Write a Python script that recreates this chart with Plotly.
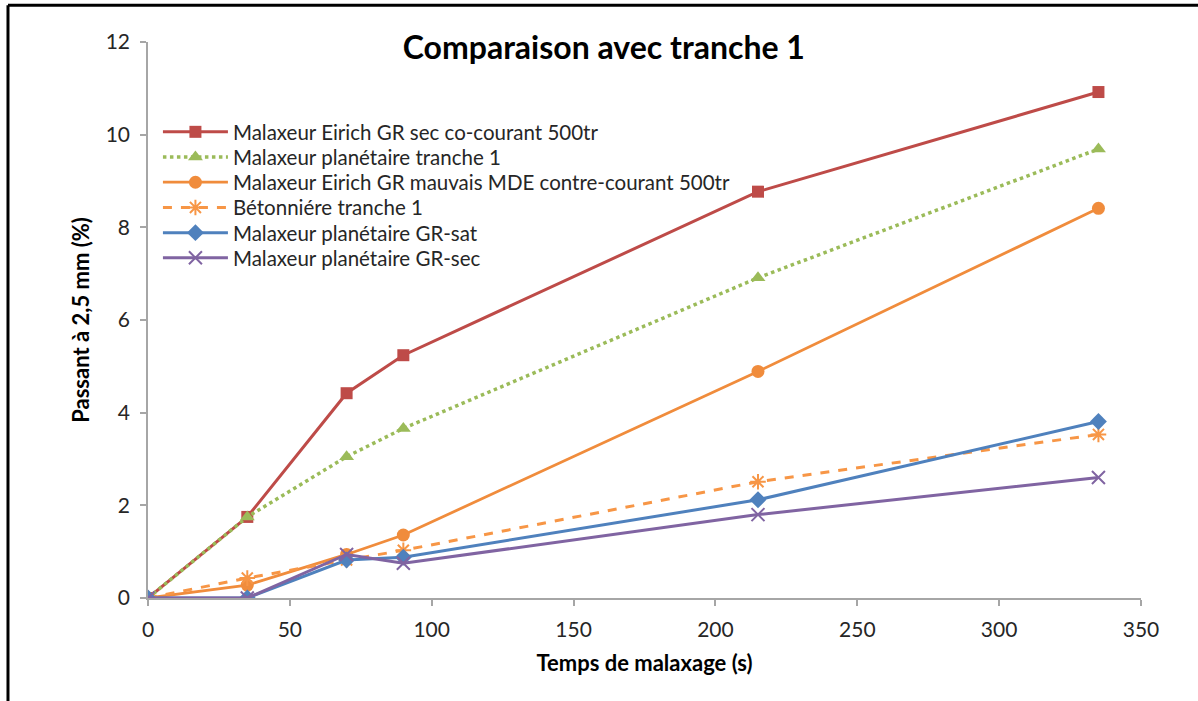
import plotly.graph_objects as go

temps = [0, 35, 70, 90, 215, 335]
eirich_sec = [0, 1.75, 4.42, 5.24, 8.77, 10.92]
planetaire_t1 = [0, 1.75, 3.05, 3.66, 6.91, 9.69]
eirich_mauvais = [0, 0.28, 0.94, 1.36, 4.89, 8.41]
betonniere_t1 = [0, 0.43, 0.82, 1.03, 2.51, 3.53]
planetaire_sat = [0, 0, 0.82, 0.88, 2.12, 3.81]
planetaire_sec = [0, 0, 0.94, 0.75, 1.80, 2.60]

names = [
    "Malaxeur Eirich GR sec co-courant 500tr",
    "Malaxeur planétaire tranche 1",
    "Malaxeur Eirich GR mauvais MDE contre-courant 500tr",
    "Bétonniére tranche 1",
    "Malaxeur planétaire GR-sat",
    "Malaxeur planétaire GR-sec",
]
x_ticks = [0, 50, 100, 150, 200, 250, 300, 350]
y_ticks = [0, 2, 4, 6, 8, 10, 12]

FONT = "Lato"
legend_ids = ["legend", "legend2", "legend3", "legend4", "legend5", "legend6"]

fig = go.Figure()
fig.add_trace(go.Scatter(x=temps, y=eirich_sec, name=names[0], mode="lines+markers",
                         line=dict(color="#BE4B48", width=3),
                         marker=dict(symbol="square", size=12, color="#BE4B48")))
fig.add_trace(go.Scatter(x=temps, y=planetaire_t1, name=names[1], mode="lines+markers",
                         line=dict(color="#9BBB59", width=3.5, dash="dot"),
                         marker=dict(symbol="triangle-up", size=13, color="#9BBB59")))
fig.add_trace(go.Scatter(x=temps, y=eirich_mauvais, name=names[2], mode="lines+markers",
                         line=dict(color="#F08C3C", width=2.8),
                         marker=dict(symbol="circle", size=13, color="#F08C3C")))
fig.add_trace(go.Scatter(x=temps, y=betonniere_t1, name=names[3], mode="lines+markers",
                         line=dict(color="#F79646", width=3, dash="dash"),
                         marker=dict(symbol="asterisk-open", size=13,
                                     line=dict(color="#4BACC6", width=2))))
fig.add_trace(go.Scatter(x=temps, y=planetaire_sat, name=names[4], mode="lines+markers",
                         line=dict(color="#4F81BD", width=3),
                         marker=dict(symbol="diamond", size=13, color="#4F81BD")))
fig.add_trace(go.Scatter(x=temps, y=planetaire_sec, name=names[5], mode="lines+markers",
                         line=dict(color="#8064A2", width=3),
                         marker=dict(symbol="x-thin-open", size=13,
                                     line=dict(color="#8064A2", width=2))))

for tr, lid in zip(fig.data, legend_ids):
    tr.legend = lid

axis_common = dict(showgrid=False, zeroline=False, showline=True, linecolor="#A6A6A6",
                   linewidth=1.5, ticks="outside", tickcolor="#A6A6A6", ticklen=6,
                   tickwidth=1.5, ticklabelstandoff=6,
                   tickfont=dict(family=FONT, size=21, color="#262626"))

fig.update_layout(
    width=1198, height=701,
    paper_bgcolor="white", plot_bgcolor="white",
    margin=dict(l=148, r=57, t=42, b=103),
    title=dict(text="<b>Comparaison avec tranche 1</b>", x=0.504, xanchor="center",
               y=0.932, yanchor="middle", font=dict(family=FONT, size=32, color="black")),
    xaxis=dict(range=[0, 350], tickvals=x_ticks, ticktext=[str(v) for v in x_ticks],
               title=dict(text="<b>Temps de malaxage (s)</b>", standoff=16,
                          font=dict(family=FONT, size=22, color="black")),
               **axis_common),
    yaxis=dict(range=[0, 12], tickvals=y_ticks, ticktext=[str(v) for v in y_ticks],
               title=dict(text="<b>Passant à 2,5 mm (%)</b>", standoff=10,
                          font=dict(family=FONT, size=22, color="black")),
               **axis_common),
    showlegend=True,
)

# one legend box per entry so that the row spacing matches the reference
plot_h = 701 - 42 - 103
first_row_px, row_gap_px = 132, 25.2
for i, lid in enumerate(legend_ids):
    ypx = first_row_px + i * row_gap_px
    fig.update_layout({lid: dict(x=0.01, y=(598 - ypx) / plot_h, xanchor="left",
                                 yanchor="middle", bgcolor="rgba(0,0,0,0)",
                                 font=dict(family=FONT, size=20.5, color="#262626"),
                                 itemwidth=65)})

# partial black frame (top and left), as in the cropped reference image
fig.add_shape(type="line", xref="paper", yref="paper", x0=-0.141, x1=1.06, y0=1.066, y1=1.066,
              line=dict(color="black", width=3))
fig.add_shape(type="line", xref="paper", yref="paper", x0=-0.141, x1=-0.141, y0=1.066, y1=-0.19,
              line=dict(color="black", width=3))

fig.write_html("out.html")
